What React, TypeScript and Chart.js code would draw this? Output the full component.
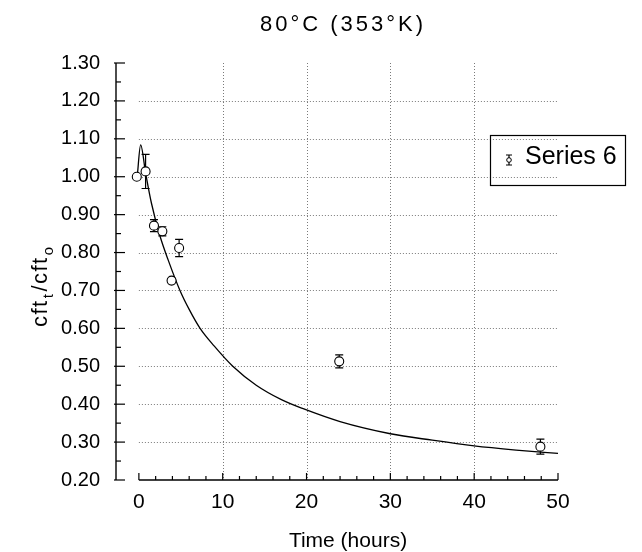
import React, { useEffect, useRef } from "react";
import { Chart, registerables } from "chart.js";

Chart.register(...registerables);

// ---- Text ----
const TITLE = "80°C (353°K)";
const X_TITLE = "Time (hours)";
const Y_TITLE_PARTS = ["cft", "/cft"];
const Y_TITLE_SUBS = ["t", "o"];
const LEGEND_LABEL = "Series 6";

// ---- Measured points (circles with error bars) ----
const pointTimes = [-0.25, 0.8, 1.8, 2.8, 3.9, 4.8, 23.9, 47.9];
const pointValues = [1.0, 1.014, 0.871, 0.856, 0.726, 0.812, 0.513, 0.288];
const pointErrors = [0, 0.045, 0.016, 0.012, 0.005, 0.023, 0.017, 0.02];

// ---- Fitted curve ----
const curveTimes = [-0.2, 0.21, 0.8, 1.5, 2.5, 3.5, 4.9, 6, 7.3, 9, 11.2, 14, 17, 19.6, 24, 30, 35, 40, 45, 50];
const curveValues = [1.0, 1.084, 1.01, 0.93, 0.845, 0.78, 0.7, 0.65, 0.6, 0.553, 0.5, 0.45, 0.412, 0.388, 0.354, 0.322, 0.305, 0.29, 0.279, 0.27];

// ---- Axes ----
const X_MIN = -2.73;
const X_MAX = 50;
const Y_MIN = 0.2;
const Y_MAX = 1.3;
const xMajorTicks = [0, 10, 20, 30, 40, 50];
const xMinorTicks = [2, 4, 6, 8, 12, 14, 16, 18, 22, 24, 26, 28, 32, 34, 36, 38, 42, 44, 46, 48];
const xGridTicks = [10, 20, 30, 40];
const yMajorTicks = [0.2, 0.3, 0.4, 0.5, 0.6, 0.7, 0.8, 0.9, 1.0, 1.1, 1.2, 1.3];
const yMinorTicks = [0.25, 0.35, 0.45, 0.55, 0.65, 0.75, 0.85, 0.95, 1.05, 1.15, 1.25];
const yGridTicks = [0.3, 0.4, 0.5, 0.6, 0.7, 0.8, 0.9, 1.0, 1.1, 1.2];

const FONT = "'Liberation Sans', Arial, Helvetica, sans-serif";

const framePlugin = {
  id: "frame",
  beforeDatasetsDraw(chart: any) {
    const { ctx, chartArea, scales } = chart;
    const xs = scales.x;
    const ys = scales.y;
    const px = (v: number) => xs.getPixelForValue(v);
    const py = (v: number) => ys.getPixelForValue(v);
    ctx.save();
    // grid
    ctx.strokeStyle = "#7a7a7a";
    ctx.lineWidth = 1;
    ctx.setLineDash([1, 2]);
    for (const v of yGridTicks) {
      const y = Math.round(py(v)) + 0.5;
      ctx.beginPath();
      ctx.moveTo(px(0), y);
      ctx.lineTo(px(50), y);
      ctx.stroke();
    }
    for (const v of xGridTicks) {
      const x = Math.round(px(v)) + 0.5;
      ctx.beginPath();
      ctx.moveTo(x, py(Y_MAX));
      ctx.lineTo(x, py(Y_MIN));
      ctx.stroke();
    }
    ctx.setLineDash([]);
    // axes
    ctx.strokeStyle = "#000";
    ctx.lineWidth = 1.4;
    const left = chartArea.left;
    ctx.beginPath();
    ctx.moveTo(left, py(Y_MAX));
    ctx.lineTo(left, py(Y_MIN));
    ctx.stroke();
    ctx.lineWidth = 1.2;
    for (const v of yMajorTicks) {
      const y = py(v);
      ctx.beginPath();
      ctx.moveTo(left - 2, y);
      ctx.lineTo(left + 9, y);
      ctx.stroke();
    }
    for (const v of yMinorTicks) {
      const y = py(v);
      ctx.beginPath();
      ctx.moveTo(left, y);
      ctx.lineTo(left + 5, y);
      ctx.stroke();
    }
    const bottom = py(Y_MIN);
    ctx.lineWidth = 1.4;
    ctx.beginPath();
    ctx.moveTo(px(0), bottom);
    ctx.lineTo(px(50), bottom);
    ctx.stroke();
    ctx.lineWidth = 1.2;
    for (const v of xMajorTicks) {
      const x = px(v);
      ctx.beginPath();
      ctx.moveTo(x, bottom);
      ctx.lineTo(x, bottom - 7);
      ctx.stroke();
    }
    for (const v of xMinorTicks) {
      const x = px(v);
      ctx.beginPath();
      ctx.moveTo(x, bottom);
      ctx.lineTo(x, bottom - 4);
      ctx.stroke();
    }
    // error bars
    ctx.lineWidth = 1.2;
    pointTimes.forEach((t, i) => {
      const e = pointErrors[i];
      if (!e) return;
      const x = px(t);
      const y1 = py(pointValues[i] + e);
      const y2 = py(pointValues[i] - e);
      ctx.beginPath();
      ctx.moveTo(x, y1);
      ctx.lineTo(x, y2);
      ctx.moveTo(x - 4, y1);
      ctx.lineTo(x + 4, y1);
      ctx.moveTo(x - 4, y2);
      ctx.lineTo(x + 4, y2);
      ctx.stroke();
    });
    ctx.restore();
  },
  afterDraw(chart: any) {
    const { ctx } = chart;
    ctx.save();
    ctx.fillStyle = "#000";
    // title
    ctx.font = `22px ${FONT}`;
    (ctx as any).letterSpacing = "3px";
    ctx.textAlign = "center";
    ctx.textBaseline = "alphabetic";
    ctx.fillText(TITLE, 343, 31);
    (ctx as any).letterSpacing = "0px";
    // x title
    ctx.font = `21px ${FONT}`;
    ctx.fillText(X_TITLE, 348, 547);
    // y title (rotated, with subscripts)
    ctx.save();
    ctx.translate(47, 327);
    ctx.rotate(-Math.PI / 2);
    ctx.textAlign = "left";
    (ctx as any).letterSpacing = "1.5px";
    let cx = 0;
    for (let i = 0; i < Y_TITLE_PARTS.length; i++) {
      ctx.font = `22px ${FONT}`;
      ctx.fillText(Y_TITLE_PARTS[i], cx, 0);
      cx += ctx.measureText(Y_TITLE_PARTS[i]).width + 1;
      ctx.font = `15px ${FONT}`;
      ctx.fillText(Y_TITLE_SUBS[i], cx, 6);
      cx += ctx.measureText(Y_TITLE_SUBS[i]).width + 1;
    }
    (ctx as any).letterSpacing = "0px";
    ctx.restore();
    // legend
    ctx.strokeStyle = "#000";
    ctx.lineWidth = 1.2;
    ctx.strokeRect(490.5, 135.5, 135, 50);
    const lx = 509;
    const ly = 160;
    ctx.beginPath();
    ctx.moveTo(lx, ly - 5);
    ctx.lineTo(lx, ly + 5);
    ctx.moveTo(lx - 3, ly - 5);
    ctx.lineTo(lx + 3, ly - 5);
    ctx.moveTo(lx - 3, ly + 5);
    ctx.lineTo(lx + 3, ly + 5);
    ctx.stroke();
    ctx.beginPath();
    ctx.fillStyle = "#fff";
    ctx.arc(lx, ly, 2.3, 0, Math.PI * 2);
    ctx.fill();
    ctx.lineWidth = 1;
    ctx.stroke();
    ctx.fillStyle = "#000";
    ctx.font = `25px ${FONT}`;
    ctx.textAlign = "left";
    ctx.fillText(LEGEND_LABEL, 525, 163.5);
    ctx.restore();
  },
};

export default function App() {
  const canvasRef = useRef<HTMLCanvasElement | null>(null);

  useEffect(() => {
    const canvas = canvasRef.current;
    if (!canvas) return;
    const chart = new Chart(canvas, {
      type: "scatter",
      data: {
        datasets: [
          {
            label: LEGEND_LABEL,
            data: pointTimes.map((t, i) => ({ x: t, y: pointValues[i] })),
            pointRadius: 4.5,
            pointBackgroundColor: "#fff",
            pointBorderColor: "#000",
            pointBorderWidth: 1.1,
            showLine: false,
            order: 1,
          },
          {
            label: "fit",
            data: curveTimes.map((t, i) => ({ x: t, y: curveValues[i] })),
            showLine: true,
            pointRadius: 0,
            borderColor: "#000",
            borderWidth: 1.3,
            cubicInterpolationMode: "monotone",
            order: 2,
          },
        ],
      },
      options: {
        animation: false,
        responsive: false,
        layout: { padding: { top: 63, right: 84, bottom: 0, left: 0 } },
        plugins: {
          legend: { display: false },
          title: { display: false },
          tooltip: { enabled: false },
        },
        scales: {
          x: {
            type: "linear",
            min: X_MIN,
            max: X_MAX,
            afterFit: (s: any) => {
              s.height = 72;
            },
            afterBuildTicks: (s: any) => {
              s.ticks = xMajorTicks.map((v) => ({ value: v }));
            },
            grid: { display: false, drawTicks: false },
            border: { display: false },
            ticks: {
              color: "#000",
              padding: 10,
              font: { family: FONT, size: 21 },
              maxRotation: 0,
              autoSkip: false,
            },
          },
          y: {
            type: "linear",
            min: Y_MIN,
            max: Y_MAX,
            afterFit: (s: any) => {
              s.width = 116;
            },
            afterBuildTicks: (s: any) => {
              s.ticks = yMajorTicks.map((v) => ({ value: v }));
            },
            grid: { display: false, drawTicks: false },
            border: { display: false },
            ticks: {
              color: "#000",
              padding: 16,
              font: { family: FONT, size: 20 },
              callback: (v: any) => Number(v).toFixed(2),
              autoSkip: false,
            },
          },
        },
      },
      plugins: [framePlugin],
    } as any);
    return () => chart.destroy();
  }, []);

  return (
    <div style={{ position: "absolute", left: 0, top: 0, width: 642, height: 552, background: "#fff" }}>
      <canvas ref={canvasRef} width={642} height={552} style={{ display: "block" }} />
    </div>
  );
}
